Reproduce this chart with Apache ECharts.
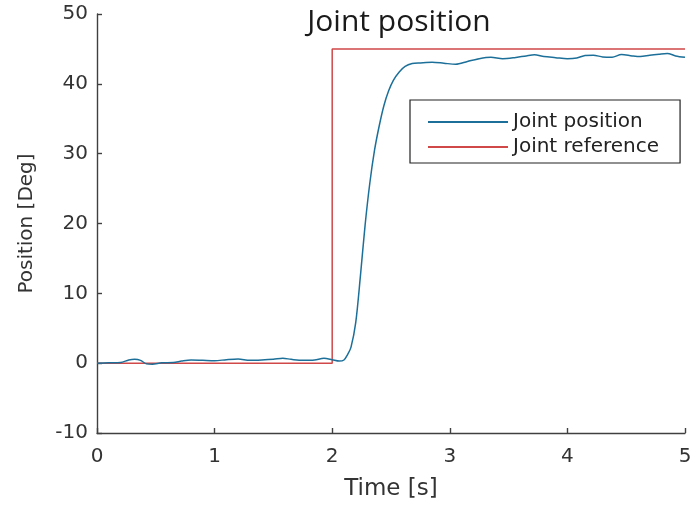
<!DOCTYPE html>
<html>
<head>
<meta charset="utf-8">
<script src="https://cdn.jsdelivr.net/npm/echarts@6/dist/echarts.min.js"></script>
<style>
  html, body { margin: 0; padding: 0; background: #fff; }
  #chart { width: 696px; height: 506px; }
</style>
</head>
<body>
<div id="chart"></div>
<script>
// Measured joint angle over time (s, deg)
const positionTime = [0.00, 0.10, 0.20, 0.27, 0.32, 0.37, 0.42, 0.47, 0.55, 0.65, 0.72, 0.80, 0.90, 1.00,
  1.10, 1.20, 1.30, 1.40, 1.50, 1.58, 1.65, 1.75, 1.85, 1.93, 2.00, 2.06, 2.10, 2.13, 2.16, 2.20,
  2.24, 2.28, 2.32, 2.36, 2.40, 2.44, 2.48, 2.52, 2.57, 2.62, 2.68, 2.75, 2.85, 2.95, 3.05, 3.15,
  3.25, 3.35, 3.45, 3.55, 3.65, 3.72, 3.80, 3.90, 4.00, 4.08, 4.15, 4.22, 4.30, 4.38, 4.46, 4.55,
  4.62, 4.70, 4.78, 4.85, 4.92, 5.00];
const positionDeg = [0.0, 0.05, 0.1, 0.45, 0.55, 0.4, -0.1, -0.15, 0.05, 0.1, 0.3, 0.45, 0.4, 0.35,
  0.5, 0.6, 0.4, 0.45, 0.55, 0.7, 0.55, 0.4, 0.45, 0.7, 0.5, 0.3, 0.45, 1.2, 2.3, 5.8,
  12.5, 19.8, 25.8, 30.5, 34.0, 36.9, 39.0, 40.5, 41.7, 42.5, 42.9, 43.0, 43.1, 42.95, 42.8, 43.2,
  43.6, 43.8, 43.6, 43.75, 44.0, 44.15, 43.9, 43.75, 43.6, 43.7, 44.05, 44.1, 43.85, 43.8, 44.2, 44.0,
  43.9, 44.1, 44.25, 44.35, 44.0, 43.8];

// Step reference command (s, deg)
const referenceTime = [0, 2, 2, 5];
const referenceDeg = [0, 0, 45, 45];

// Axis ranges and tick spacing
const xTicks = { min: 0, max: 5, interval: 1 };
const yTicks = { min: -10, max: 50, interval: 10 };

const pairs = (xs, ys) => xs.map((x, i) => [x, ys[i]]);

const textColor = '#333333';
const axisColor = '#404040';
const baseFont = 'DejaVu Sans';

const axisCommon = {
  axisLine: { show: true, onZero: false, lineStyle: { color: axisColor, width: 1.4 } },
  axisTick: { show: true, inside: true, length: 5, lineStyle: { color: axisColor, width: 1.4 } },
  splitLine: { show: false },
  axisLabel: { color: textColor, fontFamily: baseFont, fontSize: 20 }
};

const chart = echarts.init(document.getElementById('chart'), null, { renderer: 'canvas' });
chart.setOption({
  backgroundColor: '#ffffff',
  animation: false,
  title: {
    text: 'Joint position',
    left: 394,
    top: 2,
    textAlign: 'center',
    textStyle: { fontFamily: 'Open Sans', fontSize: 30, fontWeight: 'normal', color: '#1a1a1a' }
  },
  grid: { left: 97, right: 11, top: 14, bottom: 71, containLabel: false },
  legend: {
    orient: 'vertical',
    left: 410,
    top: 100,
    padding: [12, 21, 6, 18],
    itemGap: 5,
    itemWidth: 80,
    itemHeight: 2,
    icon: 'rect',
    borderColor: '#222222',
    borderWidth: 1.2,
    backgroundColor: '#ffffff',
    textStyle: { fontFamily: baseFont, fontSize: 20, color: '#222222' },
    data: ['Joint position', 'Joint reference']
  },
  xAxis: Object.assign({}, axisCommon, {
    type: 'value',
    min: xTicks.min, max: xTicks.max, interval: xTicks.interval,
    name: 'Time [s]',
    nameLocation: 'middle',
    nameGap: 45,
    nameTextStyle: { color: textColor, fontFamily: baseFont, fontSize: 23 },
    axisLabel: Object.assign({}, axisCommon.axisLabel, { margin: 14 })
  }),
  yAxis: Object.assign({}, axisCommon, {
    type: 'value',
    min: yTicks.min, max: yTicks.max, interval: yTicks.interval,
    name: 'Position [Deg]',
    nameLocation: 'middle',
    nameGap: 60,
    nameTextStyle: { color: textColor, fontFamily: baseFont, fontSize: 20 },
    axisLabel: Object.assign({}, axisCommon.axisLabel, { margin: 9 })
  }),
  series: [
    {
      name: 'Joint position',
      type: 'line',
      data: pairs(positionTime, positionDeg),
      smooth: 0.3,
      symbol: 'none',
      lineStyle: { color: '#1c6f98', width: 1.5 },
      itemStyle: { color: '#1c6f98' },
      z: 3
    },
    {
      name: 'Joint reference',
      type: 'line',
      data: pairs(referenceTime, referenceDeg),
      symbol: 'none',
      lineStyle: { color: '#d04848', width: 1.5 },
      itemStyle: { color: '#d04848' },
      z: 2
    }
  ]
});
</script>
</body>
</html>
